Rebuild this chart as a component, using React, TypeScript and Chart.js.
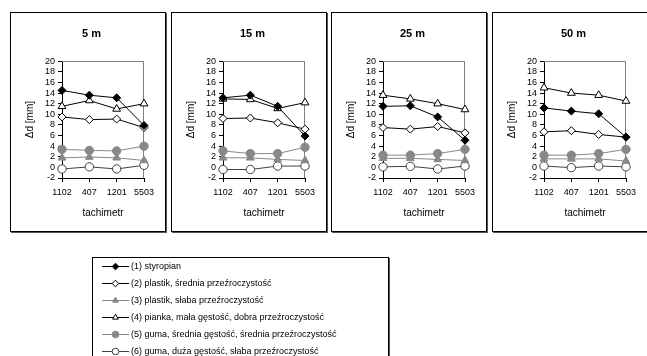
import React, { useEffect, useRef } from 'react';
import { Chart, registerables } from 'chart.js';
import { drawPoint } from 'chart.js/helpers';

Chart.register(...registerables);
Chart.defaults.font.family = '"Liberation Sans", Arial, sans-serif';
Chart.defaults.color = '#000';

const categories = ['1102', '407', '1201', '5503'];
const distances = ['5 m', '15 m', '25 m', '50 m'];
const yMin = -2;
const yMax = 20;
const yStep = 2;
const xTitle = 'tachimetr';
const yTitle = 'Δd [mm]';

const seriesLabels = [
  '(1) styropian',
  '(2) plastik, średnia przeźroczystość',
  '(3) plastik, słaba przeźroczystość',
  '(4) pianka, mała gęstość, dobra przeźroczystość',
  '(5) guma, średnia gęstość, średnia przeźroczystość',
  '(6) guma, duża gęstość, słaba przeźroczystość',
];

// values per distance (5 m, 15 m, 25 m, 50 m), per tachimetr
const styropian = [
  [14.5, 13.6, 13.1, 7.9],
  [13.1, 13.6, 11.5, 5.9],
  [11.5, 11.6, 9.5, 5.1],
  [11.2, 10.6, 10.1, 5.7],
];
const plastikSrednia = [
  [9.5, 9.0, 9.1, 7.5],
  [9.2, 9.3, 8.4, 7.2],
  [7.5, 7.2, 7.7, 6.5],
  [6.7, 6.9, 6.2, 5.7],
];
const plastikSlaba = [
  [1.8, 1.95, 1.8, 1.3],
  [1.8, 1.8, 1.5, 1.3],
  [1.7, 1.7, 1.5, 1.3],
  [1.6, 1.6, 1.6, 1.2],
];
const pianka = [
  [11.5, 12.6, 11.0, 12.0],
  [12.9, 12.8, 11.1, 12.2],
  [13.6, 12.9, 12.0, 10.9],
  [15.0, 14.0, 13.6, 12.5],
];
const gumaSrednia = [
  [3.4, 3.2, 3.1, 4.0],
  [3.1, 2.6, 2.6, 3.8],
  [2.3, 2.3, 2.6, 3.4],
  [2.3, 2.3, 2.6, 3.4],
];
const gumaDuza = [
  [-0.3, 0.1, -0.3, 0.4],
  [-0.4, -0.4, 0.25, 0.25],
  [0.1, 0.2, -0.3, 0.25],
  [0.25, -0.05, 0.25, 0.1],
];

const seriesData = [styropian, plastikSrednia, plastikSlaba, pianka, gumaSrednia, gumaDuza];

const GREY = '#888888';
const styles = [
  { color: '#000', fill: '#000', pointStyle: 'rectRot', radius: 4 },
  { color: '#000', fill: '#fff', pointStyle: 'rectRot', radius: 4 },
  { color: GREY, fill: GREY, pointStyle: 'triangle', radius: 4.5 },
  { color: '#000', fill: '#fff', pointStyle: 'triangle', radius: 4.5 },
  { color: GREY, fill: GREY, pointStyle: 'circle', radius: 4.2 },
  { color: '#404040', fill: '#fff', pointStyle: 'circle', radius: 4.2 },
];

const framePlugin = {
  id: 'frame',
  beforeDatasetsDraw(chart: any) {
    const { ctx, chartArea: a } = chart;
    ctx.save();
    ctx.strokeStyle = '#808080';
    ctx.lineWidth = 1;
    ctx.beginPath();
    ctx.moveTo(a.left, Math.round(a.top) + 0.5);
    ctx.lineTo(Math.round(a.right) - 0.5, Math.round(a.top) + 0.5);
    ctx.lineTo(Math.round(a.right) - 0.5, a.bottom);
    ctx.stroke();
    ctx.restore();
  },
};

function Panel({ index }: { index: number }) {
  const ref = useRef<HTMLCanvasElement>(null);
  useEffect(() => {
    const chart = new Chart(ref.current!, {
      type: 'line',
      data: {
        labels: categories,
        datasets: seriesData.map((d, s) => ({
          label: seriesLabels[s],
          data: d[index],
          borderColor: styles[s].color,
          backgroundColor: styles[s].fill,
          pointBackgroundColor: styles[s].fill,
          pointBorderColor: styles[s].color,
          pointStyle: styles[s].pointStyle as any,
          pointRadius: styles[s].radius,
          pointBorderWidth: 1,
          borderWidth: 1,
          tension: 0,
          clip: false as any,
          yAxisID: 'y',
        })),
      },
      options: {
        responsive: false,
        animation: false,
        devicePixelRatio: 1,
        layout: { padding: { left: 7, right: 0, top: 0, bottom: 0 } },
        plugins: {
          legend: { display: false },
          tooltip: { enabled: false },
          title: {
            display: true,
            text: distances[index],
            font: { size: 11, weight: 'bold' },
            color: '#000',
            padding: { top: 14, bottom: 21 },
          },
        },
        scales: {
          x: {
            type: 'category',
            offset: false,
            grid: { drawOnChartArea: false, drawTicks: true, tickLength: 4, color: '#000' },
            border: { color: '#000' },
            ticks: { font: { size: 9 }, color: '#000', padding: 5, maxRotation: 0, autoSkip: false },
            title: { display: true, text: xTitle, font: { size: 10 }, color: '#000', padding: { top: 0, bottom: 12 } },
            afterFit(s: any) {
              s.height = 53;
            },
          },
          y: {
            min: yMin,
            max: yMax,
            grid: { drawOnChartArea: false, drawTicks: true, tickLength: 4, color: '#000' },
            border: { color: '#000' },
            ticks: { stepSize: yStep, font: { size: 9 }, color: '#000', padding: 3, autoSkip: false },
            title: { display: true, text: yTitle, font: { size: 10 }, color: '#000', padding: { top: 6, bottom: 0 } },
            afterFit(s: any) {
              s.width = 44;
            },
          },
          yRight: {
            position: 'right',
            min: yMin,
            max: yMax,
            grid: { display: false },
            border: { display: false },
            ticks: { display: false },
            afterFit(s: any) {
              s.width = 21;
            },
          },
        },
      },
      plugins: [framePlugin],
    });
    return () => chart.destroy();
  }, [index]);
  return (
    <div
      style={{
        position: 'absolute',
        left: 10 + index * 160.67,
        top: 12,
        width: 156,
        height: 220,
        boxSizing: 'border-box',
        border: '1px solid #000',
        boxShadow: '1px 1px 0 #555',
        background: '#fff',
      }}
    >
      <canvas ref={ref} width={154} height={218} style={{ display: 'block', width: 154, height: 218 }} />
    </div>
  );
}

const legendPlugin = {
  id: 'customLegend',
  afterDraw(chart: any) {
    const { ctx } = chart;
    ctx.save();
    chart.data.datasets.forEach((ds: any, i: number) => {
      const y = Math.round(8 + i * 16.9) + 0.5;
      ctx.strokeStyle = ds.borderColor;
      ctx.lineWidth = 1;
      ctx.beginPath();
      ctx.moveTo(9, y);
      ctx.lineTo(36, y);
      ctx.stroke();
      ctx.fillStyle = ds.pointBackgroundColor;
      ctx.strokeStyle = ds.pointBorderColor;
      drawPoint(ctx, { pointStyle: ds.pointStyle, radius: 3.3, borderWidth: 1, rotation: 0 } as any, 22.5, y);
      ctx.fillStyle = '#000';
      ctx.font = '9px "Liberation Sans", Arial, sans-serif';
      ctx.textBaseline = 'middle';
      ctx.textAlign = 'left';
      ctx.fillText(ds.label, 38, y);
    });
    ctx.restore();
  },
};

function Legend() {
  const ref = useRef<HTMLCanvasElement>(null);
  useEffect(() => {
    const chart = new Chart(ref.current!, {
      type: 'line',
      data: {
        labels: [],
        datasets: seriesLabels.map((label, s) => ({
          label,
          data: [],
          borderColor: styles[s].color,
          pointBackgroundColor: styles[s].fill,
          pointBorderColor: styles[s].color,
          pointStyle: styles[s].pointStyle as any,
        })),
      },
      options: {
        responsive: false,
        animation: false,
        devicePixelRatio: 1,
        plugins: { legend: { display: false }, tooltip: { enabled: false }, title: { display: false } },
        scales: { x: { display: false }, y: { display: false } },
      },
      plugins: [legendPlugin],
    });
    return () => chart.destroy();
  }, []);
  return (
    <div
      style={{
        position: 'absolute',
        left: 92,
        top: 257,
        width: 297,
        height: 110,
        boxSizing: 'border-box',
        border: '1px solid #000',
        boxShadow: '1px 1px 0 #555',
        background: '#fff',
      }}
    >
      <canvas ref={ref} width={295} height={108} style={{ display: 'block', width: 295, height: 108 }} />
    </div>
  );
}

export default function App() {
  return (
    <div
      style={{
        position: 'fixed',
        left: 0,
        top: 0,
        width: 647,
        height: 356,
        overflow: 'hidden',
        background: '#fff',
      }}
    >
      {distances.map((_, i) => (
        <Panel key={i} index={i} />
      ))}
      <Legend />
    </div>
  );
}
